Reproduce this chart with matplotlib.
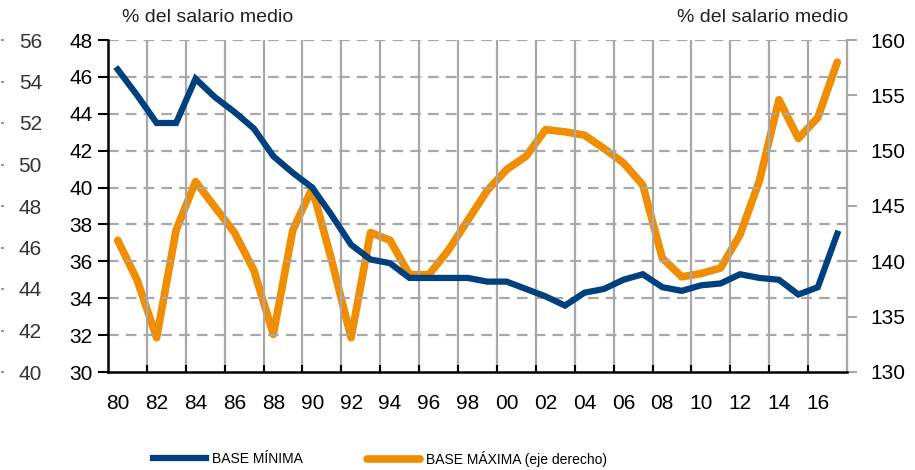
import numpy as np
import matplotlib
matplotlib.use("Agg")
import matplotlib.pyplot as plt
from matplotlib.ticker import FixedLocator

plt.rcParams["font.family"] = ["Liberation Sans", "DejaVu Sans"]

# ── datos ─────────────────────────────────────────────────────────────
years = list(range(1980, 2018))
base_minima = [46.4, 45.0, 43.5, 43.5, 45.9, 44.9, 44.1, 43.2, 41.7, 40.8,
               40.0, 38.5, 36.9, 36.1, 35.9, 35.1, 35.1, 35.1, 35.1, 34.9,
               34.9, 34.5, 34.1, 33.6, 34.3, 34.5, 35.0, 35.3, 34.6, 34.4,
               34.7, 34.8, 35.3, 35.1, 35.0, 34.2, 34.6, 37.5]
base_maxima = [141.9, 138.3, 133.1, 142.8, 147.2, 144.9, 142.6, 139.2, 133.4, 142.8,
               146.6, 140.1, 133.1, 142.6, 141.9, 138.8, 138.8, 141.0, 143.7, 146.4,
               148.3, 149.5, 151.9, 151.7, 151.4, 150.2, 148.9, 146.9, 140.3, 138.6,
               138.9, 139.4, 142.4, 147.3, 154.6, 151.1, 153.0, 158.0]
xlabels = ["80", "82", "84", "86", "88", "90", "92", "94", "96", "98",
           "00", "02", "04", "06", "08", "10", "12", "14", "16"]
left_ticks = list(range(30, 50, 2))
outer_ticks = list(range(40, 58, 2))
right_ticks = list(range(130, 165, 5))

BLUE = "#00407F"
ORANGE = "#F18D00"
GRID = "#A8A8A8"
PX = 0.72  # puntos por pixel a dpi 100

fig = plt.figure(figsize=(9.15, 4.70), dpi=100)
ax = fig.add_axes([108 / 915, 98 / 470, 739 / 915, 332 / 470])

ax.set_xlim(1979.5, 2017.5)
ax.set_ylim(30, 48)

# rejilla
for yv in left_ticks[1:]:
    ax.axhline(yv, color=GRID, lw=1.6, ls=(0, (4.8, 3.2)), zorder=0)
for xv in np.arange(1981.5, 2017, 2):
    ax.axvline(xv, color=GRID, lw=1.6, zorder=0)

l1, = ax.plot(years, base_minima, color=BLUE, lw=4.5, zorder=3,
              solid_joinstyle="miter", label="BASE MÍNIMA")

ax2 = ax.twinx()
ax2.set_ylim(130, 160)
l2, = ax2.plot(years, base_maxima, color=ORANGE, lw=5.5, zorder=2,
               solid_capstyle="round", solid_joinstyle="round",
               label="BASE MÁXIMA (eje derecho)")
ax.set_zorder(ax2.get_zorder() + 1)
ax.patch.set_visible(False)

# eje izquierdo
ax.set_yticks(left_ticks)
ax.tick_params(axis="y", direction="out", length=7, width=1.5, color="black",
               labelsize=15, pad=4)
ax.spines["left"].set_linewidth(1.8)
ax.spines["bottom"].set_linewidth(1.8)
ax.spines["top"].set_visible(False)
ax.spines["right"].set_visible(False)

# eje x
ax.set_xticks(range(1980, 2018, 2))
ax.set_xticklabels(xlabels)
ax.xaxis.set_minor_locator(FixedLocator(np.arange(1981.5, 2017, 2)))
ax.tick_params(axis="x", which="major", length=0, labelsize=15, pad=16)
ax.tick_params(axis="x", which="minor", direction="in", length=5, width=1.5,
               color="black")

# eje derecho
ax2.set_yticks(right_ticks)
ax2.tick_params(axis="y", direction="out", length=7, width=1.5, color=GRID,
                labelsize=15, pad=10)
for s in ["left", "top", "bottom"]:
    ax2.spines[s].set_visible(False)
ax2.spines["right"].set_color(GRID)
ax2.spines["right"].set_linewidth(1.6)

# eje gris exterior
ax3 = ax.twinx()
ax3.set_ylim(40, 56)
ax3.yaxis.set_ticks_position("left")
ax3.yaxis.set_label_position("left")
ax3.spines["left"].set_position(("outward", 107 * PX))
for s in ax3.spines.values():
    s.set_visible(False)
ax3.set_yticks(outer_ticks)
ax3.tick_params(axis="y", direction="in", length=3 * PX, width=1.2, color="#888888",
                labelcolor="#333333", labelsize=15, pad=-41 * PX)

fig.text(122 / 915, 1 - 18 / 470, "% del salario medio", fontsize=14,
         va="center", ha="left", color="#222222")
fig.text(848 / 915, 1 - 18 / 470, "% del salario medio", fontsize=14,
         va="center", ha="right", color="#222222")

# leyenda
for handle, x0 in [(l1, 153), (l2, 367)]:
    fig.legend(handles=[handle], loc="center left",
               bbox_to_anchor=(x0 / 915, 1 - 459 / 470), frameon=False,
               fontsize=10, handlelength=3.8, handletextpad=0.45,
               borderpad=0, borderaxespad=0)

fig.savefig("out.png", dpi=100)
